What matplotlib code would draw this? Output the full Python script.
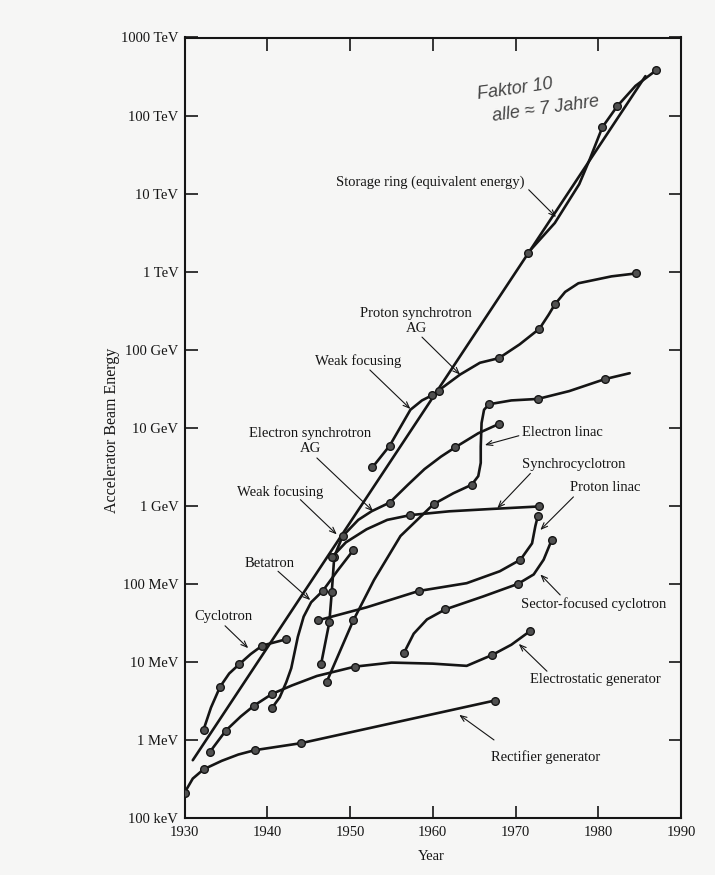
"""Livingston chart: accelerator beam energy against year, by machine type."""

import matplotlib

matplotlib.use("Agg")
import matplotlib.pyplot as plt  # noqa: E402
from matplotlib.ticker import FixedLocator, NullLocator  # noqa: E402

# --- curves: year vs. beam energy in MeV; *_dots = indices of plotted machines ---
rect_year = [1930.0, 1931.0, 1932.3, 1934.5, 1936.5, 1938.5, 1944.1, 1967.5]
rect_mev = [0.21, 0.32, 0.42, 0.54, 0.65, 0.74, 0.91, 3.2]
rect_dots = [0, 2, 5, 6, 7]

estat_year = [1933.1, 1935.0, 1936.8, 1938.4, 1940.6, 1943.0, 1946.0,
              1950.6, 1955.0, 1960.0, 1964.1, 1967.2, 1969.5, 1971.8]
estat_mev = [0.71, 1.32, 2.0, 2.75, 3.9, 5.0, 6.6, 8.7, 9.8, 9.5, 8.9, 12.3, 16.6, 25]
estat_dots = [0, 1, 3, 4, 7, 11, 13]

cyc_year = [1932.3, 1933.2, 1934.3, 1935.4, 1936.6, 1938.0, 1939.4, 1942.3]
cyc_mev = [1.35, 2.6, 4.8, 7.1, 9.3, 12.6, 16.2, 19.5]
cyc_dots = [0, 2, 4, 6, 7]

beta_year = [1940.6, 1941.5, 1942.3, 1942.9, 1943.7, 1944.4, 1945.3, 1946.7, 1948.5, 1950.4]
beta_mev = [2.6, 3.5, 5.5, 8.3, 21, 38, 58, 81, 148, 270]
beta_dots = [0, 7, 9]

envelope_year = [1931.0, 1985.7]
envelope_mev = [0.55, 3.2e8]

ring_year = [1971.5, 1974.75, 1977.7, 1979.0, 1980.5, 1982.3, 1984.5, 1987.0]
ring_mev = [1.74e6, 4.2e6, 1.32e7, 2.8e7, 7.1e7, 1.32e8, 2.4e8, 3.8e8]
ring_dots = [0, 4, 5, 7]

psweak_year = [1952.7, 1954.8, 1957.3, 1958.7, 1959.9]
psweak_mev = [3100, 5900, 1.7e4, 2.24e4, 2.6e4]
psweak_dots = [0, 1, 4]

psag_year = [1960.7, 1963.3, 1965.7, 1968.0, 1970.5, 1972.9, 1974.0, 1974.75,
             1976.0, 1977.6, 1981.6, 1984.6]
psag_mev = [3.0e4, 4.8e4, 6.8e4, 7.8e4, 1.17e5, 1.86e5, 2.8e5, 3.8e5,
            5.5e5, 7.1e5, 8.7e5, 9.5e5]
psag_dots = [0, 3, 5, 7, 11]

esync_year = [1946.5, 1947.5, 1947.8, 1948.1, 1949.1, 1951.0, 1952.6, 1954.8,
              1957.0, 1959.0, 1961.0, 1962.7, 1965.5, 1968.0]
esync_mev = [9.3, 32, 79, 224, 407, 660, 850, 1100, 1860, 2950, 4270, 5600, 8500, 1.12e4]
esync_dots = [0, 1, 2, 3, 4, 7, 11, 13]

sc_year = [1947.8, 1949.5, 1952.0, 1954.5, 1957.3, 1962.0, 1967.0, 1972.8]
sc_mev = [219, 340, 500, 660, 760, 850, 910, 980]
sc_dots = [0, 4, 7]

elinac_year = [1947.2, 1950.4, 1952.9, 1956.1, 1960.1, 1962.5, 1964.7, 1965.5, 1965.8,
               1965.8, 1965.9, 1966.2, 1966.8, 1969.5, 1972.7, 1976.5, 1980.8, 1983.8]
elinac_mev = [5.6, 34, 112, 410, 1050, 1450, 1860, 2400, 3550,
              5750, 1.15e4, 1.7e4, 2.0e4, 2.24e4, 2.34e4, 2.95e4, 4.2e4, 5.0e4]
elinac_dots = [0, 1, 4, 6, 12, 14, 16]

plinac_year = [1946.1, 1952.0, 1958.3, 1964.1, 1968.1, 1970.6, 1972.0, 1972.4, 1972.7]
plinac_mev = [34, 50, 81, 102, 145, 204, 330, 550, 740]
plinac_dots = [0, 2, 5, 8]

sfc_year = [1956.5, 1957.7, 1959.3, 1961.5, 1966.1, 1970.3, 1972.2, 1973.4, 1974.4]
sfc_mev = [12.9, 23, 35, 47, 69, 100, 132, 204, 370]
sfc_dots = [0, 3, 5, 8]

year_ticks = [1930, 1940, 1950, 1960, 1970, 1980, 1990]
energy_ticks = [0.1, 1, 10, 100, 1e3, 1e4, 1e5, 1e6, 1e7, 1e8, 1e9]
energy_labels = ["100 keV", "1 MeV", "10 MeV", "100 MeV", "1 GeV", "10 GeV",
                 "100 GeV", "1 TeV", "10 TeV", "100 TeV", "1000 TeV"]

PAPER = "#f6f6f5"
INK = "#151515"

plt.rcParams["font.family"] = ["Liberation Serif", "DejaVu Serif"]

fig = plt.figure(figsize=(7.15, 8.75), dpi=100, facecolor=PAPER)
ax = fig.add_axes([184.5 / 715, 1 - 818 / 875, 496.5 / 715, 780.5 / 875])
ax.set_facecolor(PAPER)
ax.set_yscale("log")
ax.set_xlim(1930, 1990)
ax.set_ylim(0.1, 1e9)

ax.xaxis.set_major_locator(FixedLocator(year_ticks))
ax.set_xticklabels([str(y) for y in year_ticks])
ax.yaxis.set_major_locator(FixedLocator(energy_ticks))
ax.yaxis.set_minor_locator(NullLocator())
ax.set_yticklabels(energy_labels)
ax.tick_params(direction="in", length=9, width=1.2, top=True, right=True,
               labelsize=10.5, colors=INK)
ax.tick_params(axis="x", pad=6)
ax.tick_params(axis="y", pad=4.5)
for sp in ax.spines.values():
    sp.set_linewidth(1.5)
    sp.set_color(INK)


def curve(years, mev, dots=None):
    ax.plot(years, mev, color=INK, lw=1.9, solid_joinstyle="round",
            solid_capstyle="round", marker="o" if dots else None,
            markevery=dots, ms=5.5, mfc="#505050", mec=INK, mew=1.0, zorder=3)


curve(rect_year, rect_mev, rect_dots)
curve(estat_year, estat_mev, estat_dots)
curve(cyc_year, cyc_mev, cyc_dots)
curve(beta_year, beta_mev, beta_dots)
curve(envelope_year, envelope_mev)
curve(ring_year, ring_mev, ring_dots)
curve(psweak_year, psweak_mev, psweak_dots)
curve(psag_year, psag_mev, psag_dots)
curve(esync_year, esync_mev, esync_dots)
curve(sc_year, sc_mev, sc_dots)
curve(elinac_year, elinac_mev, elinac_dots)
curve(plinac_year, plinac_mev, plinac_dots)
curve(sfc_year, sfc_mev, sfc_dots)

# label text, label centre, arrow tail, arrow head (year, MeV)
labels = [
    ("Storage ring (equivalent energy)", (1959.7, 1.41e7), (1971.6, 1.12e7), (1974.9, 5.0e6)),
    ("Proton synchrotron\nAG", (1958.0, 2.3e5), (1958.7, 1.45e5), (1963.3, 4.8e4)),
    ("Weak focusing", (1951.0, 7.2e4), (1952.4, 5.5e4), (1957.3, 1.74e4)),
    ("Electron synchrotron\nAG", (1945.2, 6800), (1946.0, 4100), (1952.8, 850)),
    ("Weak focusing", (1941.5, 1500), (1944.0, 1200), (1948.4, 430)),
    ("Betatron", (1940.3, 180), (1941.3, 145), (1945.2, 62)),
    ("Cyclotron", (1934.7, 38), (1934.9, 29), (1937.7, 15)),
    ("Electron linac", (1975.7, 8700), (1970.4, 7900), (1966.3, 6000)),
    ("Synchrocyclotron", (1977.0, 3400), (1971.8, 2600), (1967.8, 930)),
    ("Proton linac", (1980.8, 1700), (1977.0, 1300), (1973.0, 490)),
    ("Sector-focused cyclotron", (1979.4, 55), (1975.4, 72), (1973.0, 132)),
    ("Electrostatic generator", (1979.6, 5.9), (1973.8, 7.6), (1970.4, 17)),
    ("Rectifier generator", (1973.6, 0.60), (1967.4, 1.0), (1963.2, 2.1)),
]
for text, pos, tail, head in labels:
    ax.text(pos[0], pos[1], text, ha="center", va="center", fontsize=10.5,
            color=INK, linespacing=1.2, multialignment="center")
    ax.annotate("", xy=head, xytext=tail,
                arrowprops=dict(arrowstyle="->,head_length=0.45,head_width=0.18",
                                lw=0.8, color=INK, shrinkA=0, shrinkB=0))

# pencil note in the upper corner
note_kw = dict(fontsize=13, color="#454545", style="italic", rotation=8,
               ha="center", va="center", family=["Liberation Sans", "DejaVu Sans"])
ax.text(1969.9, 2.2e8, "Faktor 10", **note_kw)
ax.text(1973.7, 1.2e8, "alle \u2248 7 Jahre", **note_kw)

fig.text(431 / 715, 1 - 857 / 875, "Year", ha="center", va="center",
         fontsize=10.5, color=INK)
fig.text(112 / 715, 1 - 430 / 875, "Accelerator Beam Energy", ha="center",
         va="center", rotation=90, fontsize=11.5, color=INK)

fig.savefig("out.png", dpi=100, facecolor=PAPER)
